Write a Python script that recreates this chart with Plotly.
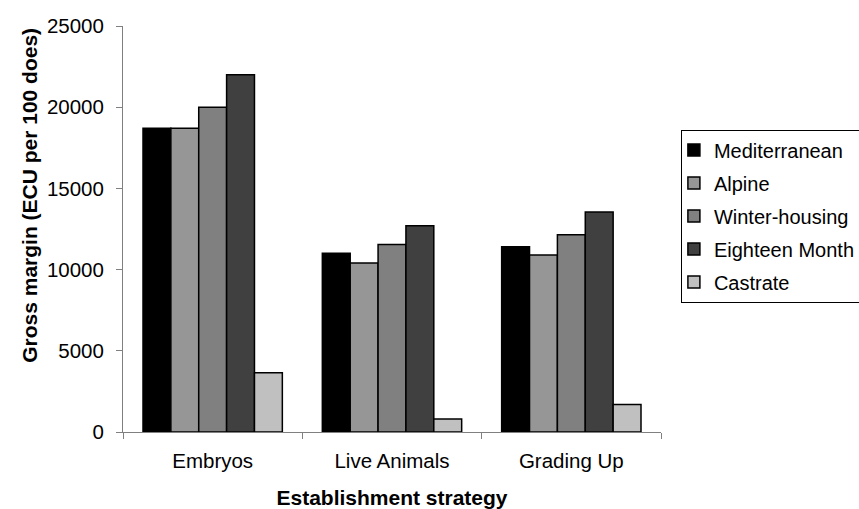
import plotly.graph_objects as go

# Gross margin by establishment strategy and production system
strategies = ["Embryos", "Live Animals", "Grading Up"]
systems = ["Mediterranean", "Alpine", "Winter-housing", "Eighteen Month", "Castrate"]

mediterranean = [18700, 11000, 11400]
alpine = [18700, 10400, 10900]
winter_housing = [20000, 11550, 12150]
eighteen_month = [22000, 12700, 13550]
castrate = [3650, 800, 1700]

series_values = [mediterranean, alpine, winter_housing, eighteen_month, castrate]
fills = ["#000000", "#969696", "#808080", "#404040", "#c0c0c0"]

y_ticks = [0, 5000, 10000, 15000, 20000, 25000]
y_tick_labels = [str(v) for v in y_ticks]

FONT = "Liberation Sans, Arial, sans-serif"
AXIS_GREY = "#808080"
TXT = 20.5

fig = go.Figure()
for i, (name, vals, col) in enumerate(zip(systems, series_values, fills)):
    fig.add_trace(go.Bar(
        name=name, x=strategies, y=vals, legendgroup=f"g{i}",
        marker=dict(color=col, line=dict(color="#000000", width=1.5)),
    ))

fig.update_layout(
    width=859, height=509,
    margin=dict(l=123, r=198, t=26, b=77, autoexpand=False),
    paper_bgcolor="white", plot_bgcolor="white",
    barmode="group", bargap=0.223, bargroupgap=0,
    font=dict(family=FONT, size=TXT, color="#000000"),
    showlegend=True,
    legend=dict(
        x=1.037, y=0.745, xanchor="left", yanchor="top",
        bordercolor="#000000", borderwidth=1,
        font=dict(family=FONT, size=20, color="#000000"),
        itemwidth=30, indentation=-8,
        traceorder="grouped", tracegroupgap=4,
    ),
    xaxis=dict(
        type="category", range=[-0.5, 2.5],
        showline=True, linecolor=AXIS_GREY, linewidth=1,
        ticks="outside", tickson="boundaries", ticklen=6, tickcolor=AXIS_GREY,
        ticklabelstandoff=10,
        showgrid=False, zeroline=False,
        title=dict(text="<b>Establishment strategy</b>", standoff=21,
                   font=dict(family=FONT, size=21)),
        tickfont=dict(family=FONT, size=TXT),
    ),
    yaxis=dict(
        range=[0, 25000], tickvals=y_ticks, ticktext=y_tick_labels,
        showline=True, linecolor=AXIS_GREY, linewidth=1,
        ticks="outside", ticklen=6, tickcolor=AXIS_GREY,
        ticklabelstandoff=8,
        showgrid=False, zeroline=False,
        tickfont=dict(family=FONT, size=TXT),
    ),
    # inner halves of the crossing tick marks
    xaxis2=dict(
        overlaying="x", anchor="y", side="bottom", range=[-0.5, 2.5],
        tickvals=[-0.5, 0.5, 1.5, 2.5], ticks="inside", ticklen=6,
        tickcolor=AXIS_GREY, showticklabels=False, showline=False,
        showgrid=False, zeroline=False,
    ),
    yaxis2=dict(
        overlaying="y", anchor="x", side="left", range=[0, 25000],
        tickvals=y_ticks, ticks="inside", ticklen=6,
        tickcolor=AXIS_GREY, showticklabels=False, showline=False,
        showgrid=False, zeroline=False,
    ),
)

# value-axis title, set a little above the middle of the axis
fig.add_annotation(
    text="<b>Gross margin (ECU per 100 does)</b>",
    xref="paper", yref="paper", x=-0.173, y=0.584,
    xanchor="center", yanchor="middle", textangle=-90, showarrow=False,
    font=dict(family=FONT, size=21, color="#000000"),
)

fig.write_html("out.html")
